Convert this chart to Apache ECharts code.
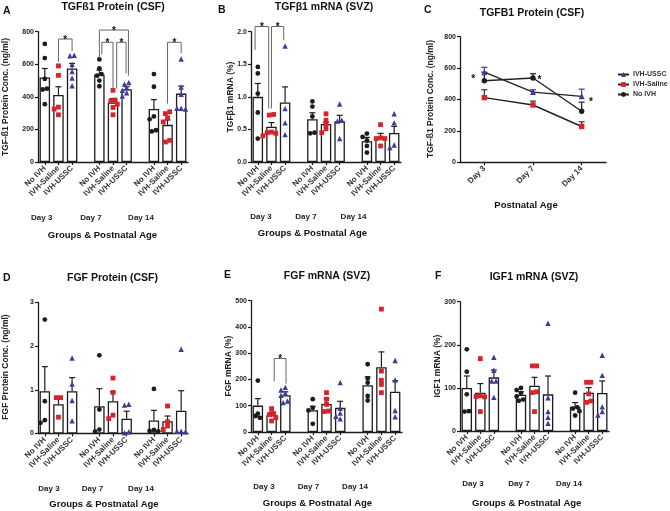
<!DOCTYPE html>
<html><head><meta charset="utf-8">
<script src="https://cdn.jsdelivr.net/npm/echarts@6/dist/echarts.min.js"></script>
<style>html,body{margin:0;padding:0;background:#fff}#c{width:670px;height:511px}</style>
</head><body><div id="c"></div>
<script>
// ---------- categories ----------
const groupLabels = ['No IVH', 'IVH-Saline', 'IVH-USSC'];
const dayLabels = ['Day 3', 'Day 7', 'Day 14'];
const lineNames = ['IVH-USSC', 'IVH-Saline', 'No IVH'];

// ---------- Panel A: TGFß1 Protein (CSF) ----------
// order: D3 NoIVH, D3 Saline, D3 USSC, D7 ..., D14 ...
const aMeans = [519, 412, 574, 537, 365, 447, 325, 228, 420];
const aSem = [55, 50, 31, 27, 25, 15, 58, 30, 46];
const aPts = [
  [725, 638, 510, 450, 445, 355],
  [590, 532, 337, 325, 290],
  [655, 652, 600, 555, 515, 468],
  [630, 575, 540, 530, 500, 465],
  [440, 380, 375, 355, 335, 290],
  [488, 478, 455, 440, 425, 405],
  [540, 462, 280, 262, 195, 188],
  [308, 297, 271, 246, 133, 123],
  [632, 460, 415, 330, 325, 330]
];
// [fromSlot, top, toSlot, footFrom, footTo, offFrom, offTo]
const aBrackets = [
  [1, 755, 2, 615, 680, 0, 0],
  [4, 810, 6, 646, 530, 0, 0.13],
  [4, 735, 5, 660, 451, 0.18, 0],
  [5, 735, 6, 451, 544, 0.27, -0.04],
  [9, 735, 10, 359, 667, 0, 0]
];

// ---------- Panel B: TGFβ1 mRNA (SVZ) ----------
const bMeans = [1.00, 0.54, 0.913, 0.656, 0.585, 0.626, 0.318, 0.385, 0.446];
const bSem = [0.205, 0.065, 0.24, 0.10, 0.03, 0.09, 0.06, 0.055, 0.10];
const bPts = [
  [1.46, 1.36, 1.05, 0.76, 0.36],
  [0.73, 0.72, 0.46, 0.44, 0.40, 0.45],
  [1.78, 0.82, 0.60, 0.42],
  [0.93, 0.85, 0.70, 0.45, 0.44],
  [0.74, 0.64, 0.575, 0.51, 0.45],
  [0.89, 0.64, 0.63, 0.36],
  [0.436, 0.385, 0.33, 0.246, 0.144],
  [0.574, 0.36, 0.36, 0.37, 0.246],
  [0.74, 0.60, 0.26, 0.22]
];
const bBrackets = [
  [0, 2.08, 1, 1.72, 0.82, -0.2, -0.2],
  [1, 2.08, 2, 0.82, 1.87, 0.0, -0.1]
];

// ---------- Panel C: TGFB1 Protein (CSF) lines ----------
const cUssc = [574, 447, 420], cUsscSem = [31, 15, 46];
const cSaline = [412, 365, 228], cSalineSem = [50, 25, 30];
const cNoIvh = [519, 537, 325], cNoIvhSem = [55, 27, 58];
// [dayIndex, value, offsetFraction]
const cStars = [[0, 545, -0.23], [1, 543, 0.13], [2, 399, 0.19]];

// ---------- Panel D: FGF Protein (CSF) ----------
const dMeans = [0.97, 0.67, 0.97, 0.626, 0.74, 0.34, 0.30, 0.28, 0.52];
const dSem = [0.56, 0.17, 0.31, 0.40, 0.21, 0.17, 0.23, 0.12, 0.46];
const dPts = [
  [2.61, 0.74, 0.305, 0.244],
  [0.82, 0.82, 0.374],
  [1.73, 1.13, 0.755, 0.29],
  [1.79, 0.55, 0.09, 0.04],
  [1.27, 0.94, 0.42, 0.34],
  [0.67, 0.65, 0.015, 0.04],
  [1.02, 0.08, 0.06, 0.05],
  [0.63, 0.27, 0.17, 0.09],
  [1.93, 0.05, 0.04, 0.05]
];

// ---------- Panel E: FGF mRNA (SVZ) ----------
const eMeans = [100.5, 63.6, 140, 83, 107, 92, 178, 247, 153];
const eSem = [26.5, 12.4, 13, 15, 20, 25, 32, 58, 42];
const ePts = [
  [196, 70, 61, 54],
  [89, 70, 66, 55, 42],
  [170, 160, 148, 140, 118, 112],
  [125, 92, 82, 31],
  [150, 125, 105, 80, 78],
  [188, 90, 72, 60, 50],
  [258, 204, 188, 137, 120],
  [468, 232, 197, 181, 150],
  [272, 198, 82, 58]
];
const eBrackets = [[1, 280, 2, 193, 184, 0.19, 0.05]];

// ---------- Panel F: IGF1 mRNA (SVZ) ----------
const fMeans = [99.8, 89, 124.5, 84, 105, 85, 56.5, 89, 88];
const fSem = [27.8, 21, 17, 7, 19.5, 42.6, 9.5, 11.5, 28];
const fPts = [
  [189.5, 137.7, 85, 45, 46],
  [168, 82, 80, 79, 45],
  [171, 141, 116, 116, 78],
  [100, 95, 88, 80, 73, 70],
  [151, 151, 91, 89, 45],
  [250, 77, 45, 32, 18],
  [89, 55, 52, 46, 36],
  [113, 113, 86, 66.5, 69.6],
  [175.6, 129, 56, 45, 37]
];

// ---------- styling / layout ----------
const FONT = '"Liberation Sans", Arial, sans-serif';
const INK = '#1c1c1c', RED = '#d8232a', BLUE = '#3c3c98';
const typeStyle = [
  { symbol: 'circle', color: INK, size: 4.8 },
  { symbol: 'rect', color: RED, size: 4.8 },
  { symbol: 'triangle', color: BLUE, size: 5.4 }
];
const grids = [
  { left: 38, top: 31.7, width: 150, height: 130.3 },
  { left: 251, top: 31.7, width: 150, height: 130.3 },
  { left: 460, top: 36.7, width: 146, height: 125.6 },
  { left: 38, top: 302.5, width: 150, height: 131 },
  { left: 251, top: 300.7, width: 151, height: 131.3 },
  { left: 460, top: 301.7, width: 149, height: 129.3 }
];

const catData = [];
dayLabels.forEach((d, di) => {
  groupLabels.forEach(g => catData.push(g));
  if (di < dayLabels.length - 1) catData.push('');
});
const slotOf = g => Math.floor(g / 3) * 4 + (g % 3);

const option = {
  animation: false,
  backgroundColor: '#fff',
  textStyle: { fontFamily: FONT },
  grid: grids,
  xAxis: [], yAxis: [], series: [], graphic: [],
  legend: {
    data: lineNames, orient: 'vertical', left: 612, top: 66, itemGap: 3,
    itemWidth: 11, itemHeight: 6, padding: 5,
    textStyle: { fontSize: 7, fontWeight: 'bold', color: '#333', fontFamily: FONT, padding: [0, 0, 0, -1] }
  }
};

function yAxisCfg(gi, max, interval, fmt) {
  return {
    type: 'value', gridIndex: gi, min: 0, max: max, interval: interval,
    axisLine: { show: true, lineStyle: { color: INK, width: 1.3 } },
    axisTick: { show: true, length: 3, lineStyle: { color: INK, width: 1.2 } },
    splitLine: { show: false },
    axisLabel: { fontSize: 7, fontWeight: 'bold', color: '#222', margin: 4, fontFamily: FONT, formatter: fmt }
  };
}

// simple beeswarm: horizontal display offsets (px) so close points do not overlap
function swarm(vals, max, h) {
  const d = 4.3;
  const idx = vals.map((v, i) => i).sort((a, b) => vals[b] - vals[a]);
  const offs = new Array(vals.length).fill(0);
  const ys = vals.map(v => v / max * h);
  const placed = [];
  const cands = [0, -d, d, -2 * d, 2 * d];
  idx.forEach(i => {
    for (const c of cands) {
      if (placed.every(p => (offs[p] - c) ** 2 + (ys[p] - ys[i]) ** 2 >= d * d * 0.95)) {
        offs[i] = c; placed.push(i); return;
      }
    }
    offs[i] = 0; placed.push(i);
  });
  // centre rows of points that sit at (nearly) the same level
  const done = new Array(vals.length).fill(false);
  idx.forEach(i => {
    if (done[i]) return;
    const row = idx.filter(j => !done[j] && Math.abs(ys[j] - ys[i]) < d * 0.45);
    if (row.length > 1) {
      const m = row.reduce((s, j) => s + offs[j], 0) / row.length;
      row.forEach(j => { offs[j] -= m; done[j] = true; });
    }
  });
  return offs;
}

function errSeries(gi, data, color, capHalf) {
  return {
    type: 'custom', xAxisIndex: gi, yAxisIndex: gi, z: 3, silent: true,
    encode: { x: 0, y: 1 },
    data: data,
    renderItem: function (params, api) {
      const x = api.value(0), m = api.value(1), s = api.value(2);
      const p0 = api.coord([x, m]), p1 = api.coord([x, m + s]);
      return {
        type: 'group', children: [
          { type: 'line', shape: { x1: p0[0], y1: p0[1], x2: p1[0], y2: p1[1] }, style: { stroke: color, lineWidth: 1.2 } },
          { type: 'line', shape: { x1: p1[0] - capHalf, y1: p1[1], x2: p1[0] + capHalf, y2: p1[1] }, style: { stroke: color, lineWidth: 1.2 } }
        ]
      };
    }
  };
}

function bracketSeries(gi, data) {
  return {
    type: 'custom', xAxisIndex: gi, yAxisIndex: gi, z: 5, silent: true, clip: false,
    encode: { x: 0, y: 1 },
    data: data,
    renderItem: function (params, api) {
      const s1 = api.value(0), top = api.value(1), s2 = api.value(2);
      const f1 = api.value(3), f2 = api.value(4), o1 = api.value(5), o2 = api.value(6);
      const bw = api.size([1, 0])[0];
      const pt = api.coord([s1, top]);
      const x1 = pt[0] + o1 * bw, yTop = pt[1];
      const x2 = api.coord([s2, top])[0] + o2 * bw;
      const y1 = api.coord([s1, f1])[1], y2 = api.coord([s2, f2])[1];
      return {
        type: 'group', children: [
          { type: 'polyline', shape: { points: [[x1, y1], [x1, yTop], [x2, yTop], [x2, y2]] }, style: { stroke: '#666', lineWidth: 1, fill: null } },
          { type: 'text', style: { text: '*', x: (x1 + x2) / 2, y: yTop + 1, align: 'center', verticalAlign: 'middle', font: 'bold 10px ' + FONT, fill: '#111' } }
        ]
      };
    }
  };
}

function addBarPanel(gi, means, sems, pts, max, interval, fmt, brackets) {
  option.xAxis.push({
    type: 'category', gridIndex: gi, data: catData, boundaryGap: true,
    axisLine: { show: true, lineStyle: { color: INK, width: 1.3 } },
    axisTick: { show: true, alignWithLabel: true, length: 3, interval: i => (i % 4) !== 3, lineStyle: { color: INK, width: 1.2 } },
    axisLabel: { interval: 0, rotate: 45, fontSize: 8, fontWeight: 'bold', color: '#333', margin: 5, fontFamily: FONT },
    splitLine: { show: false }
  });
  option.yAxis.push(yAxisCfg(gi, max, interval, fmt));
  const barData = catData.map(() => null);
  means.forEach((m, g) => { barData[slotOf(g)] = m; });
  option.series.push({
    type: 'bar', xAxisIndex: gi, yAxisIndex: gi, data: barData, barWidth: 10.5, z: 2, silent: true,
    itemStyle: { color: '#fff', borderColor: INK, borderWidth: 1.3 }
  });
  option.series.push(errSeries(gi, means.map((m, g) => [slotOf(g), m, sems[g]]), INK, 3));
  const h = grids[gi].height;
  for (let t = 0; t < 3; t++) {
    const data = [];
    pts.forEach((vals, g) => {
      if (g % 3 !== t) return;
      const offs = swarm(vals, max, h);
      vals.forEach((v, k) => data.push({ value: [slotOf(g), v], symbolOffset: [offs[k], 0] }));
    });
    option.series.push({
      type: 'scatter', xAxisIndex: gi, yAxisIndex: gi, z: 4, silent: true,
      symbol: typeStyle[t].symbol, symbolSize: typeStyle[t].size,
      itemStyle: { color: typeStyle[t].color, opacity: 1 },
      data: data
    });
  }
  if (brackets) option.series.push(bracketSeries(gi, brackets));
}

addBarPanel(0, aMeans, aSem, aPts, 800, 200, v => v, aBrackets);
addBarPanel(1, bMeans, bSem, bPts, 2, 0.5, v => v.toFixed(1), bBrackets);

// Panel C (line chart) -> grid index 2
option.xAxis.push({
  type: 'category', gridIndex: 2, data: dayLabels, boundaryGap: true,
  axisLine: { show: true, lineStyle: { color: INK, width: 1.3 } },
  axisTick: { show: true, alignWithLabel: true, length: 3, lineStyle: { color: INK, width: 1.2 } },
  axisLabel: { interval: 0, rotate: 45, fontSize: 8, fontWeight: 'bold', color: '#333', margin: 5, fontFamily: FONT }
});
option.yAxis.push(yAxisCfg(2, 800, 200, v => v));
const cSeries = [
  { name: lineNames[0], vals: cUssc, sem: cUsscSem, st: typeStyle[2], err: BLUE },
  { name: lineNames[1], vals: cSaline, sem: cSalineSem, st: typeStyle[1], err: '#333' },
  { name: lineNames[2], vals: cNoIvh, sem: cNoIvhSem, st: typeStyle[0], err: INK }
];
cSeries.forEach(s => {
  option.series.push({
    name: s.name, type: 'line', xAxisIndex: 2, yAxisIndex: 2, data: s.vals, z: 4, silent: true,
    symbol: s.st.symbol, symbolSize: s.st.size + 0.6, showAllSymbol: true,
    itemStyle: { color: s.st.color },
    lineStyle: { color: '#222', width: 1.4 }
  });
  option.series.push(errSeries(2, s.vals.map((v, i) => [i, v, s.sem[i]]), s.err, 3));
});
option.series.push({
  type: 'custom', xAxisIndex: 2, yAxisIndex: 2, z: 5, silent: true, clip: false,
  encode: { x: 0, y: 1 }, data: cStars,
  renderItem: function (params, api) {
    const p = api.coord([api.value(0), api.value(1)]);
    const bw = api.size([1, 0])[0];
    return { type: 'text', style: { text: '*', x: p[0] + api.value(2) * bw, y: p[1] + 3, align: 'center', verticalAlign: 'middle', font: 'bold 10px ' + FONT, fill: '#111' } };
  }
});

addBarPanel(3, dMeans, dSem, dPts, 3, 1, v => v, null);
addBarPanel(4, eMeans, eSem, ePts, 500, 100, v => v, eBrackets);
addBarPanel(5, fMeans, fSem, fPts, 300, 100, v => v, null);

// ---------- texts ----------
function txt(text, x, y, size, rot, color, align) {
  return {
    type: 'text', x: x, y: y, rotation: rot || 0, silent: true,
    style: { text: text, x: 0, y: 0, align: align || 'center', verticalAlign: 'middle', font: 'bold ' + size + 'px ' + FONT, fill: color || '#111' }
  };
}
const R = Math.PI / 2;
const G = option.graphic;
// panel letters
G.push(txt('A', 3, 11, 10.5, 0, '#111', 'left'));
G.push(txt('B', 218, 10, 10.5, 0, '#111', 'left'));
G.push(txt('C', 424, 10, 10.5, 0, '#111', 'left'));
G.push(txt('D', 3, 278, 10.5, 0, '#111', 'left'));
G.push(txt('E', 224, 275, 10.5, 0, '#111', 'left'));
G.push(txt('F', 435, 276, 10.5, 0, '#111', 'left'));
// titles
G.push(txt('TGFß1 Protein (CSF)', 113, 7, 10.5));
G.push(txt('TGFβ1 mRNA (SVZ)', 324, 7, 10.5));
G.push(txt('TGFB1 Protein (CSF)', 532, 13, 10.5));
G.push(txt('FGF Protein (CSF)', 112.5, 278, 10.5));
G.push(txt('FGF mRNA (SVZ)', 327, 276, 10.5));
G.push(txt('IGF1 mRNA (SVZ)', 534, 277, 10.5));
// y-axis names
G.push(txt('TGF-ß1 Protein Conc. (ng/ml)', 6, 97, 8.5, R, '#222'));
G.push(txt('TGFβ1 mRNA (%)', 231, 97, 8.5, R, '#222'));
G.push(txt('TGF-ß1 Protein Conc. (ng/ml)', 431, 99, 8.5, R, '#222'));
G.push(txt('FGF Protein Conc. (ng/ml)', 6, 367, 8.5, R, '#222'));
G.push(txt('FGF mRNA (%)', 229, 366, 8.5, R, '#222'));
G.push(txt('IGF1 mRNA (%)', 438, 366, 8.5, R, '#222'));
// x-axis names
G.push(txt('Groups & Postnatal Age', 102.5, 235, 9.5));
G.push(txt('Groups & Postnatal Age', 312.5, 233, 9.5));
G.push(txt('Postnatal Age', 526, 205, 9.5));
G.push(txt('Groups & Postnatal Age', 104, 504, 9.5));
G.push(txt('Groups & Postnatal Age', 317.5, 503, 9.5));
G.push(txt('Groups & Postnatal Age', 526.7, 503, 9.5));
// day labels under bar panels
const dayPos = [
  [[41.7, 91, 141], 218],
  [[261, 306, 353.5], 216.7],
  [[49, 92.5, 141], 489],
  [[264, 308.5, 355], 487],
  [[473, 519, 569], 484]
];
dayPos.forEach(p => p[0].forEach((x, i) => G.push(txt(dayLabels[i], x, p[1], 8, 0, '#222'))));

const chart = echarts.init(document.getElementById('c'), null, { renderer: 'canvas' });
chart.setOption(option);
</script>
</body></html>
